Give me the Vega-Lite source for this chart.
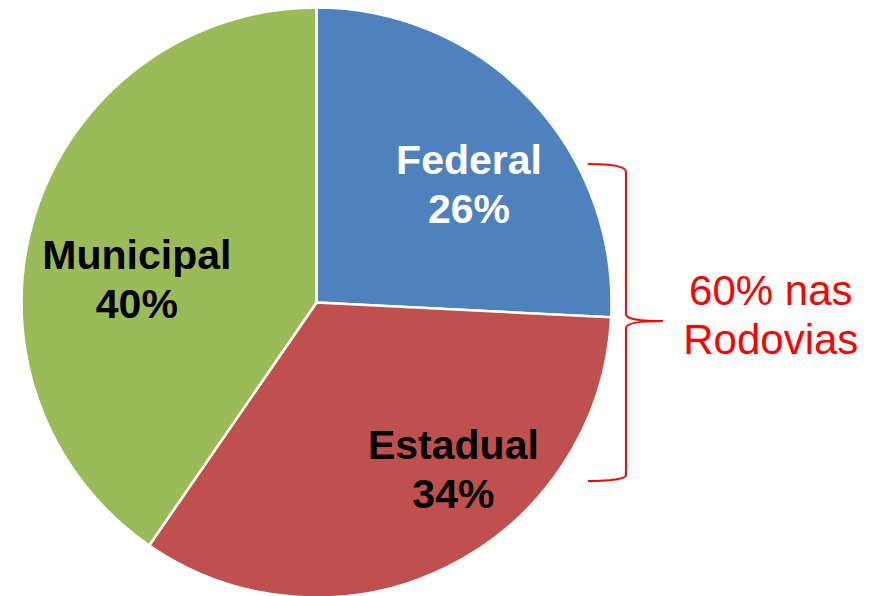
{
  "$schema": "https://vega.github.io/schema/vega-lite/v6.json",
  "width": 871,
  "height": 596,
  "autosize": {"type": "none"},
  "padding": 0,
  "background": "white",
  "config": {"view": {"stroke": null}},
  "data": {"values": [
    {"tipo": "Federal", "pct": 0.258, "ordem": 1},
    {"tipo": "Estadual", "pct": 0.338, "ordem": 2},
    {"tipo": "Municipal", "pct": 0.404, "ordem": 3}
  ]},
  "encoding": {
    "x": {"datum": 0, "type": "quantitative", "scale": {"domain": [-1.0729, 1.8797], "nice": false, "zero": false}, "axis": null},
    "y": {"datum": 0, "type": "quantitative", "scale": {"domain": [-0.9949, 1.0254], "nice": false, "zero": false}, "axis": null}
  },
  "layer": [
    {
      "mark": {"type": "arc", "outerRadius": 295, "stroke": "white", "strokeWidth": 2.5},
      "encoding": {
        "theta": {"field": "pct", "type": "quantitative", "stack": true},
        "color": {"field": "tipo", "type": "nominal", "scale": {"domain": ["Federal", "Estadual", "Municipal"], "range": ["#4F81BD", "#C0504D", "#9BBB59"]}, "legend": null},
        "order": {"field": "ordem", "type": "quantitative"}
      }
    },
    {
      "transform": [{"filter": "datum.tipo === 'Federal'"}],
      "encoding": {"x": {"datum": 0.517}, "y": {"datum": 0.354}},
      "layer": [
        {"mark": {"type": "text", "font": "Liberation Sans", "fontSize": 41, "fontWeight": "bold", "fill": "white", "align": "center", "baseline": "alphabetic", "dy": -24.5}, "encoding": {"text": {"field": "tipo"}}},
        {"mark": {"type": "text", "font": "Liberation Sans", "fontSize": 41, "fontWeight": "bold", "fill": "white", "align": "center", "baseline": "alphabetic", "dy": 24.5}, "encoding": {"text": {"field": "pct", "type": "quantitative", "format": ".0%"}}}
      ]
    },
    {
      "transform": [{"filter": "datum.tipo === 'Estadual'"}],
      "encoding": {"x": {"datum": 0.464}, "y": {"datum": -0.614}},
      "layer": [
        {"mark": {"type": "text", "font": "Liberation Sans", "fontSize": 41, "fontWeight": "bold", "fill": "black", "align": "center", "baseline": "alphabetic", "dy": -24.5}, "encoding": {"text": {"field": "tipo"}}},
        {"mark": {"type": "text", "font": "Liberation Sans", "fontSize": 41, "fontWeight": "bold", "fill": "black", "align": "center", "baseline": "alphabetic", "dy": 24.5}, "encoding": {"text": {"field": "pct", "type": "quantitative", "format": ".0%"}}}
      ]
    },
    {
      "transform": [{"filter": "datum.tipo === 'Municipal'"}],
      "encoding": {"x": {"datum": -0.609}, "y": {"datum": 0.031}},
      "layer": [
        {"mark": {"type": "text", "font": "Liberation Sans", "fontSize": 41, "fontWeight": "bold", "fill": "black", "align": "center", "baseline": "alphabetic", "dy": -24.5}, "encoding": {"text": {"field": "tipo"}}},
        {"mark": {"type": "text", "font": "Liberation Sans", "fontSize": 41, "fontWeight": "bold", "fill": "black", "align": "center", "baseline": "alphabetic", "dy": 24.5}, "encoding": {"text": {"field": "pct", "type": "quantitative", "format": ".0%"}}}
      ]
    },
    {
      "data": {"values": [{"nota": "60% nas Rodovias"}]},
      "mark": {"type": "point", "shape": "M -0.2375 -0.9875 C -0.09375 -0.9875 0 -0.975 0 -0.9375 L 0 -0.05 C 0 -0.01875 0.0625 -0.00625 0.23125 -0.00625 C 0.0625 -0.00625 0 0.0125 0 0.0375 L 0 0.95625 C 0 0.98125 -0.09375 0.99375 -0.2375 0.99375", "size": 102400, "filled": false, "stroke": "#FF0000", "strokeWidth": 2, "opacity": 1},
      "encoding": {"x": {"datum": 1.049}, "y": {"datum": -0.066}}
    },
    {
      "data": {"values": [{"linha1": "60% nas", "linha2": "Rodovias"}]},
      "encoding": {"x": {"datum": 1.54}, "y": {"datum": -0.092}},
      "layer": [
        {"mark": {"type": "text", "font": "Liberation Sans", "fontSize": 42, "fill": "#FF0000", "align": "center", "baseline": "alphabetic", "dy": -24.5}, "encoding": {"text": {"field": "linha1"}}},
        {"mark": {"type": "text", "font": "Liberation Sans", "fontSize": 42, "fill": "#FF0000", "align": "center", "baseline": "alphabetic", "dy": 24.5}, "encoding": {"text": {"field": "linha2"}}}
      ]
    }
  ]
}
